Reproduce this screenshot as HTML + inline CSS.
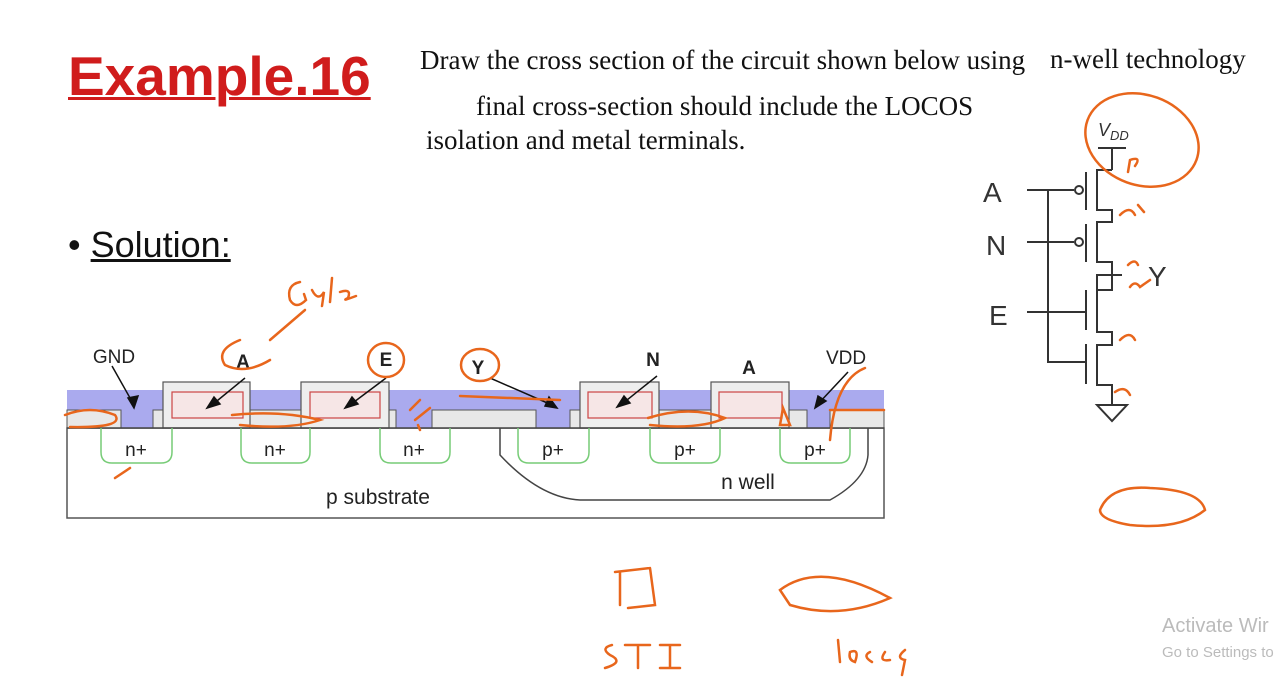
<!DOCTYPE html>
<html><head><meta charset="utf-8"><style>
body{margin:0;width:1280px;height:684px;background:#fff;overflow:hidden;position:relative;font-family:"Liberation Sans",sans-serif}
.t{position:absolute;font-family:"Liberation Serif",serif;font-size:27px;color:#111;white-space:nowrap}
</style></head><body>
<div style="position:absolute;left:68px;top:44px;font-size:55px;font-weight:bold;color:#d01c1c;text-decoration:underline;text-decoration-thickness:3px">Example.16</div>
<div class="t" style="left:420px;top:45px">Draw the cross section of the circuit shown below using</div>
<div class="t" style="left:1050px;top:44px">n-well technology</div>
<div class="t" style="left:476px;top:91px">final cross-section should include the LOCOS</div>
<div class="t" style="left:426px;top:125px">isolation and metal terminals.</div>
<div style="position:absolute;left:68px;top:224px;font-size:36px;color:#111">• <u>Solution:</u></div>
<div style="position:absolute;left:1162px;top:615px;font-size:20px;color:#bbb">Activate Wir</div>
<div style="position:absolute;left:1162px;top:644px;font-size:15px;color:#bbb">Go to Settings to</div>
<svg width="1280" height="684" style="position:absolute;left:0;top:0" font-family="Liberation Sans,sans-serif">
<rect x="67" y="428" width="817" height="90" fill="#fff" stroke="#555" stroke-width="1.5"/>
<path d="M500 428 L500 455 Q540 498 580 500 L830 500 Q866 480 868 455 L868 428" fill="none" stroke="#444" stroke-width="1.5"/>
<rect x="67" y="390" width="817" height="38" fill="#aaaaee"/>
<g fill="#e8e8e8" stroke="#555" stroke-width="1">
<rect x="67" y="410" width="54" height="18"/>
<rect x="153" y="410" width="18" height="18"/>
<rect x="250" y="410" width="52" height="18"/>
<rect x="378" y="410" width="18" height="18"/>
<rect x="432" y="410" width="104" height="18"/>
<rect x="570" y="410" width="18" height="18"/>
<rect x="659" y="410" width="52" height="18"/>
<rect x="789" y="410" width="18" height="18"/>
<rect x="830" y="410" width="54" height="18"/>
</g>
<g stroke="#555" stroke-width="1.2">
<rect x="163" y="382" width="87" height="46" fill="#eee"/>
<rect x="172" y="392" width="71" height="26" fill="#f6e6e6" stroke="#c44"/>
<rect x="301" y="382" width="88" height="46" fill="#eee"/>
<rect x="310" y="392" width="70" height="26" fill="#f6e6e6" stroke="#c44"/>
<rect x="580" y="382" width="79" height="46" fill="#eee"/>
<rect x="588" y="392" width="64" height="26" fill="#f6e6e6" stroke="#c44"/>
<rect x="711" y="382" width="78" height="46" fill="#eee"/>
<rect x="719" y="392" width="63" height="26" fill="#f6e6e6" stroke="#c44"/>
</g>
<line x1="67" y1="428" x2="884" y2="428" stroke="#444" stroke-width="1.5"/>
<g fill="none" stroke="#7c7" stroke-width="1.5">
<path d="M101 428 V452 Q101 463 112 463 H161 Q172 463 172 452 V428"/>
<path d="M241 428 V452 Q241 463 252 463 H299 Q310 463 310 452 V428"/>
<path d="M380 428 V452 Q380 463 391 463 H439 Q450 463 450 452 V428"/>
<path d="M518 428 V452 Q518 463 529 463 H578 Q589 463 589 452 V428"/>
<path d="M650 428 V452 Q650 463 661 463 H709 Q720 463 720 452 V428"/>
<path d="M780 428 V452 Q780 463 791 463 H839 Q850 463 850 452 V428"/>
</g>
<g font-size="19" fill="#222" text-anchor="middle">
<text x="136" y="456">n+</text><text x="275" y="456">n+</text><text x="414" y="456">n+</text>
<text x="553" y="456">p+</text><text x="685" y="456">p+</text><text x="815" y="456">p+</text>
<text x="748" y="489" font-size="21">n well</text>
<text x="378" y="504" font-size="21">p substrate</text>
<text x="114" y="363">GND</text><text x="846" y="364">VDD</text>
<text x="243" y="368" font-weight="bold">A</text><text x="386" y="366" font-weight="bold">E</text>
<text x="478" y="374" font-weight="bold">Y</text><text x="653" y="366" font-weight="bold">N</text>
<text x="749" y="374" font-weight="bold">A</text>
</g>
<g stroke="#111" stroke-width="1.5" fill="#111">
<line x1="112" y1="366" x2="134" y2="405"/><polygon points="134,408 128,398 138,396"/>
<line x1="245" y1="378" x2="212" y2="405"/><polygon points="207,408 214,397 220,404"/>
<line x1="386" y1="378" x2="350" y2="405"/><polygon points="345,408 352,397 358,404"/>
<line x1="490" y1="378" x2="552" y2="405"/><polygon points="557,408 545,406 549,397"/>
<line x1="657" y1="376" x2="622" y2="404"/><polygon points="617,407 624,396 630,403"/>
<line x1="848" y1="372" x2="818" y2="404"/><polygon points="815,408 818,396 826,401"/>
</g>
<g stroke="#333" stroke-width="2" fill="none">
<line x1="1098" y1="148" x2="1126" y2="148"/><line x1="1112" y1="148" x2="1112" y2="170"/>
<path d="M1112 170 H1097 V210 H1112 V222 H1097 V262 H1112 V275 H1097 V295"/>
<path d="M1112 275 H1122"/>
<path d="M1112 262 V275 V290 H1097 V332 H1112 V345 H1097 V385 H1112 V405"/>
<line x1="1086" y1="172" x2="1086" y2="210"/><line x1="1086" y1="224" x2="1086" y2="262"/>
<line x1="1086" y1="290" x2="1086" y2="330"/><line x1="1086" y1="344" x2="1086" y2="384"/>
<line x1="1027" y1="190" x2="1074" y2="190"/><circle cx="1079" cy="190" r="4"/>
<line x1="1027" y1="242" x2="1074" y2="242"/><circle cx="1079" cy="242" r="4"/>
<line x1="1027" y1="312" x2="1086" y2="312"/>
<path d="M1048 190 V362 H1086"/>
<polygon points="1097,405 1127,405 1112,421"/>
</g>
<g font-size="28" fill="#333"><text x="983" y="202">A</text><text x="986" y="255">N</text><text x="989" y="325">E</text><text x="1148" y="286">Y</text></g>
<text x="1098" y="136" font-size="18" font-style="italic" fill="#333">V<tspan font-size="13" dy="4">DD</tspan></text>
<g stroke="#e8661c" stroke-width="2.5" fill="none" stroke-linecap="round">
<path d="M300 282 Q286 285 290 300 Q296 310 306 300 L304 294 M312 290 Q318 302 324 292 L322 306 M332 278 L330 302 M340 292 Q352 288 348 298 Q340 302 356 296"/>
<path d="M305 310 L270 340"/>
<path d="M240 340 Q215 350 225 365 Q245 375 270 360"/>
<ellipse cx="386" cy="360" rx="18" ry="17"/>
<ellipse cx="480" cy="365" rx="19" ry="16"/>
<path d="M65 415 Q90 405 115 415 Q125 428 70 427"/>
<path d="M232 415 Q280 410 320 420 Q290 430 240 425"/>
<path d="M460 396 L560 400"/>
<path d="M410 410 L420 400 M415 420 L430 408 M418 425 L420 430"/>
<path d="M648 418 Q690 405 725 418 Q700 430 650 425"/>
<path d="M783 408 L790 425 L780 425 Z"/>
<path d="M865 368 Q835 380 830 440 M830 410 L884 410"/>
<path d="M115 478 L130 468"/>
<ellipse cx="1142" cy="140" rx="58" ry="45" transform="rotate(20 1142 140)"/>
<path d="M1130 160 L1128 172 M1130 160 Q1142 156 1135 166"/>
<path d="M1120 215 Q1130 205 1135 215 M1138 205 L1144 212"/>
<path d="M1128 265 Q1135 258 1138 265 M1130 287 Q1135 280 1140 287 L1150 280"/>
<path d="M1120 340 Q1130 330 1135 340 M1115 392 Q1125 385 1130 395"/>
<path d="M1100 510 Q1110 485 1150 488 Q1200 490 1205 510 Q1180 530 1130 525 Q1100 520 1100 510Z"/>
<path d="M620 572 L620 605 M615 572 L650 568 M650 568 L655 605 L628 608"/>
<path d="M780 590 Q820 560 890 598 Q840 620 790 605 Z"/>
<path d="M612 645 Q600 648 610 655 Q625 662 605 668 M625 645 L650 645 M638 645 L638 668 M660 645 L680 645 M670 645 L670 668 M660 668 L680 668"/>
<path d="M838 640 L840 662 M850 652 Q860 648 855 662 Q848 660 850 652 M870 652 Q862 656 872 662 M885 652 Q878 662 890 660 M905 650 Q895 658 905 660 L902 675"/>
</g>
</svg>
</body></html>
